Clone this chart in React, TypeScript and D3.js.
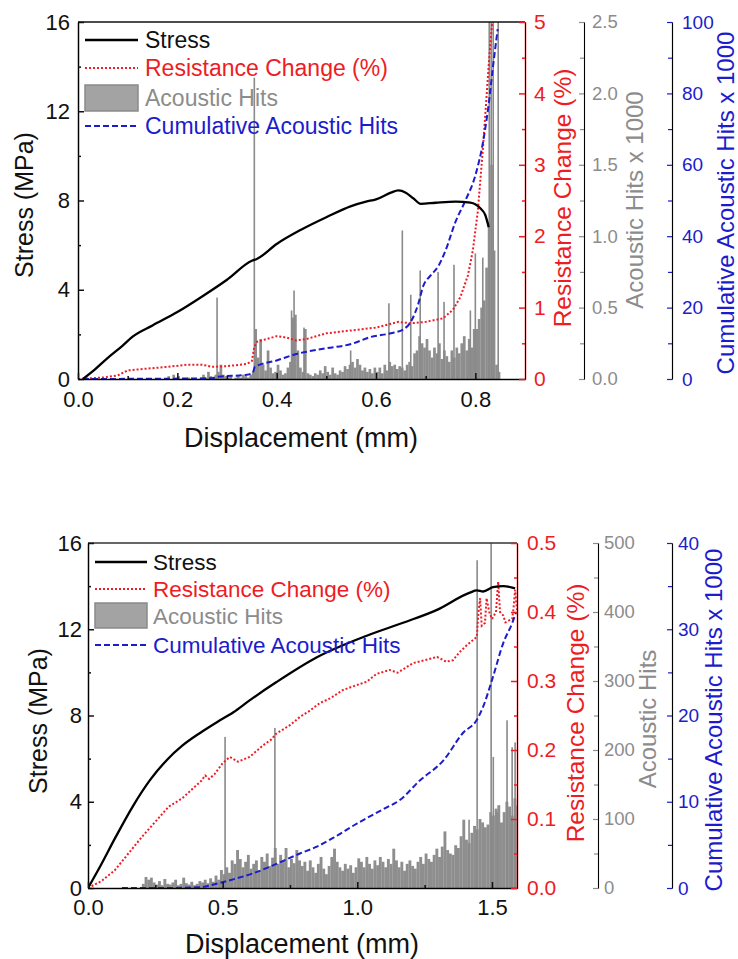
import React, { useEffect, useRef } from 'react'
import * as d3 from 'd3'

const FONT = "'Liberation Sans', Arial, Helvetica, sans-serif"
const RED = '#ee1c24'
const BLUE = '#1c1ccc'
const GRAY_TXT = '#8c8c8c'
const BAR = '#8e8e8e'

// ---------- top panel data (displacement mm) ----------
const topStress = [
  [0.01, 0], [0.03, 0.35], [0.06, 0.95], [0.09, 1.5], [0.11, 1.9], [0.15, 2.4], [0.2, 3.0],
  [0.25, 3.7], [0.3, 4.45], [0.35, 5.3], [0.36, 5.38], [0.4, 6.05], [0.45, 6.7], [0.5, 7.25],
  [0.55, 7.75], [0.58, 7.95], [0.6, 8.05], [0.63, 8.35], [0.645, 8.45], [0.66, 8.35],
  [0.675, 8.1], [0.69, 7.85], [0.72, 7.9], [0.76, 7.95], [0.79, 7.9], [0.81, 7.65],
  [0.82, 7.35], [0.827, 6.8],
]
const topResistance = [
  [0, 0], [0.05, 0.02], [0.08, 0.05], [0.1, 0.12], [0.13, 0.14], [0.18, 0.17], [0.22, 0.2],
  [0.25, 0.2], [0.27, 0.17], [0.3, 0.18], [0.34, 0.21], [0.35, 0.25], [0.355, 0.45],
  [0.36, 0.52], [0.4, 0.6], [0.42, 0.58], [0.44, 0.54], [0.46, 0.56], [0.5, 0.64],
  [0.55, 0.68], [0.6, 0.72], [0.645, 0.8], [0.67, 0.78], [0.7, 0.8], [0.735, 0.85],
  [0.755, 0.97], [0.77, 1.15], [0.785, 1.45], [0.795, 1.8], [0.805, 2.35], [0.815, 3.2],
  [0.822, 3.9], [0.828, 4.5], [0.834, 5.0],
]
const topCumulative = [
  [0.01, 0], [0.27, 0.2], [0.28, 0.6], [0.34, 1.2], [0.352, 1.8], [0.356, 3.4], [0.4, 5.2],
  [0.44, 7.0], [0.5, 8.6], [0.55, 9.8], [0.59, 11.8], [0.63, 12.8], [0.655, 13.9],
  [0.67, 16], [0.685, 21], [0.695, 26], [0.71, 29], [0.725, 31.5], [0.74, 36], [0.76, 44],
  [0.78, 50], [0.8, 57], [0.815, 66], [0.826, 76], [0.836, 88], [0.845, 98],
]
// acoustic hits (x 1000), bins of 0.005 mm starting at 0
const topHitsStep = 0.005
const topHits = [
  0, 0, 0, 0, 0, 0, 0, 0, 0, 0, 0, 0, 0, 0, 0, 0, 0, 0, 0, 0,
  0, 0, 0, 0, 0, 0, 0, 0, 0, 0, 0, 0, 0, 0, 0, 0,
  0.02, 0, 0.03, 0, 0.02,
  0, 0, 0, 0.01, 0, 0, 0, 0, 0.01,
  0.03, 0.01, 0.05, 0.02, 0.01, 0.03,
  0.05, 0.1, 0.03, 0.02,
  0.01, 0.02, 0, 0.01, 0.02, 0.01, 0.03, 0.02, 0.01, 0.03,
  0.05, 0.35, 0.15, 0.28, 0.1, 0.06, 0.2, 0.08, 0.04, 0.05,
  0.1, 0.06, 0.03, 0.04, 0.08, 0.12, 0.43, 0.45, 0.2, 0.08,
  0.05, 0.35, 0.04, 0.03, 0.02, 0.04, 0.03, 0.06, 0.04, 0.09,
  0.05, 0.03, 0.08, 0.04, 0.03, 0.06, 0.05, 0.09, 0.07, 0.1,
  0.12, 0.08, 0.14, 0.1, 0.06, 0.08, 0.05, 0.07, 0.04, 0.08,
  0.05, 0.08, 0.04, 0.1, 0.06, 0.12, 0.09, 0.1, 0.07, 0.09,
  0.08, 0.06, 0.1, 0.12, 0.09, 0.18, 0.2, 0.3, 0.25, 0.22,
  0.28, 0.2, 0.15, 0.22, 0.18, 0.25, 0.14, 0.2, 0.16, 0.12,
  0.2, 0.15, 0.22, 0.18, 0.25, 0.3, 0.2, 0.28, 0.22, 0.35,
  0.35, 0.42, 0.5, 0.55, 0.78, 1.1, 1.5, 0.9, 0.1, 0.05,
]
const topSpikes = [
  [0.28, 0.57], [0.355, 2.11], [0.43, 0.48], [0.435, 0.62], [0.455, 0.36], [0.549, 0.2],
  [0.626, 0.53], [0.653, 1.04], [0.67, 0.59], [0.689, 0.76], [0.725, 0.75], [0.737, 0.54],
  [0.757, 0.8], [0.79, 0.48], [0.8, 0.88], [0.815, 0.85], [0.828, 3], [0.832, 3],
  [0.836, 3], [0.846, 3],
]

// ---------- bottom panel data ----------
const botStress = [
  [0, 0], [0.045, 1.0], [0.1, 2.3], [0.167, 3.8], [0.23, 5.0], [0.293, 5.94], [0.35, 6.6],
  [0.416, 7.19], [0.48, 7.7], [0.54, 8.15], [0.6, 8.7], [0.7, 9.55], [0.85, 10.7],
  [1.035, 11.7], [1.17, 12.3], [1.296, 12.9], [1.418, 13.7], [1.444, 13.8], [1.467, 13.75],
  [1.504, 13.95], [1.542, 14.0], [1.586, 13.9],
]
const botResistance = [
  [0, 0], [0.05, 0.01], [0.1, 0.026], [0.15, 0.05], [0.2, 0.074], [0.25, 0.096], [0.3, 0.118],
  [0.35, 0.13], [0.4, 0.148], [0.42, 0.155], [0.435, 0.163], [0.45, 0.158], [0.47, 0.165],
  [0.5, 0.181], [0.527, 0.19], [0.557, 0.183], [0.6, 0.19], [0.651, 0.207], [0.68, 0.215],
  [0.7, 0.224], [0.75, 0.236], [0.787, 0.248], [0.82, 0.256], [0.861, 0.268], [0.9, 0.275],
  [0.947, 0.287], [0.99, 0.293], [1.035, 0.299], [1.07, 0.31], [1.12, 0.316], [1.15, 0.312],
  [1.207, 0.326], [1.25, 0.33], [1.296, 0.335], [1.33, 0.328], [1.355, 0.33], [1.38, 0.342],
  [1.407, 0.352], [1.444, 0.364], [1.45, 0.4], [1.456, 0.42], [1.462, 0.38], [1.474, 0.384],
  [1.48, 0.42], [1.49, 0.4], [1.5, 0.39], [1.515, 0.4], [1.523, 0.444], [1.53, 0.4],
  [1.542, 0.395], [1.55, 0.385], [1.575, 0.39], [1.58, 0.405], [1.586, 0.432], [1.593, 0.403],
]
const botCumulative = [
  [0.126, 0], [0.3, 0], [0.416, 0.1], [0.49, 0.6], [0.55, 1.1], [0.613, 1.7], [0.7, 2.8],
  [0.787, 4.0], [0.85, 4.8], [0.91, 5.8], [1.0, 7.5], [1.035, 8.1], [1.1, 9.2], [1.158, 10.2],
  [1.23, 12.4], [1.32, 14.8], [1.393, 18], [1.444, 19.5], [1.467, 21], [1.504, 24.5],
  [1.542, 28.4], [1.575, 30.7], [1.59, 32],
]
// acoustic hits, bins of 0.01 mm starting at 0
const botHitsStep = 0.01
const botHits = [
  0, 0, 0, 0, 0, 0, 0, 0, 0, 0, 0, 0, 0, 0, 0, 0, 0, 0, 0, 0,
  6, 16, 12, 15, 8, 5, 10, 4, 13, 6,
  5, 8, 12, 4, 6, 15, 7, 5, 9, 4,
  6, 10, 8, 12, 7, 14, 9, 18, 12, 26,
  20, 30, 22, 40, 35, 55, 42, 30, 38, 48,
  28, 35, 40, 25, 45, 38, 50, 32, 44, 58,
  35, 48, 40, 58, 30, 42, 36, 55, 40, 32,
  38, 25, 40, 30, 22, 35, 45, 28, 20, 32,
  45, 57, 38, 30, 25, 35, 28, 33, 22, 30,
  43, 38, 30, 45, 35, 28, 40, 33, 45, 38,
  30, 42, 35, 57, 40, 30, 38, 25, 35, 40,
  32, 28, 38, 45, 35, 50, 42, 38, 48, 57,
  45, 60, 82, 55, 50, 48, 62, 58, 75, 99,
  70, 65, 80, 90, 85, 100, 95, 88, 92, 110,
  105, 115, 120, 95, 110, 125, 118, 105, 130, 120,
]
const botSpikes = [
  [0.509, 219], [0.694, 232], [1.415, 99], [1.445, 475], [1.497, 520], [1.505, 190],
  [1.52, 110], [1.556, 243], [1.575, 204], [1.586, 211],
]

// ---------- tick values ----------
const stressTicks = [0, 4, 8, 12, 16]
const stressMinor = [2, 6, 10, 14]
const topXTicks = [0, 0.2, 0.4, 0.6, 0.8]
const topXMinor = [0.1, 0.3, 0.5, 0.7]
const topRedTicks = [0, 1, 2, 3, 4, 5]
const topRedMinor = [0.5, 1.5, 2.5, 3.5, 4.5]
const topGrayTicks = [0, 0.5, 1, 1.5, 2, 2.5]
const topGrayMinor = [0.25, 0.75, 1.25, 1.75, 2.25]
const topBlueTicks = [0, 20, 40, 60, 80, 100]
const topBlueMinor = [10, 30, 50, 70, 90]
const botXTicks = [0, 0.5, 1, 1.5]
const botXMinor = [0.25, 0.75, 1.25]
const botRedTicks = [0, 0.1, 0.2, 0.3, 0.4, 0.5]
const botRedMinor = [0.05, 0.15, 0.25, 0.35, 0.45]
const botGrayTicks = [0, 100, 200, 300, 400, 500]
const botGrayMinor = [50, 150, 250, 350, 450]
const botBlueTicks = [0, 10, 20, 30, 40]
const botBlueMinor = [5, 15, 25, 35]

const legendLabels = ['Stress', 'Resistance Change (%)', 'Acoustic Hits', 'Cumulative Acoustic Hits']

const panels = [
  {
    id: 'top', left: 78, right: 525, top: 22, bottom: 379,
    xDomain: [0, 0.9], xTicks: topXTicks, xMinor: topXMinor, xFmt: '.1f', xPad: 12, yPad: 8,
    red: { domain: [0, 5], ticks: topRedTicks, minor: topRedMinor, fmt: 'd', pad: 9 },
    gray: { x: 584, domain: [0, 2.5], ticks: topGrayTicks, minor: topGrayMinor, fmt: '.1f', pad: 8 },
    blue: { x: 672, domain: [0, 100], ticks: topBlueTicks, minor: topBlueMinor, fmt: 'd', pad: 10 },
    stress: topStress, resistance: topResistance, cumulative: topCumulative,
    hits: topHits, hitsStep: topHitsStep, spikes: topSpikes,
    titles: {
      x: [301, 447], stress: [24, 205], red: [562, 198], gray: [635, 200], blue: [726, 203],
      grayText: 'Acoustic Hits x 1000',
    },
    legend: { x0: 85, x1: 138, tx: 145, rows: [40, 68, 98, 126], size: 23, rect: [85, 111] },
    frame: '#111',
  },
  {
    id: 'bot', left: 88, right: 517, top: 543, bottom: 888,
    xDomain: [0, 1.593], xTicks: botXTicks, xMinor: botXMinor, xFmt: '.1f', xPad: 11, yPad: 6,
    red: { domain: [0, 0.5], ticks: botRedTicks, minor: botRedMinor, fmt: '.1f', pad: 10 },
    gray: { x: 598, domain: [0, 500], ticks: botGrayTicks, minor: botGrayMinor, fmt: 'd', pad: 6 },
    blue: { x: 672, domain: [0, 40], ticks: botBlueTicks, minor: botBlueMinor, fmt: 'd', pad: 6 },
    stress: botStress, resistance: botResistance, cumulative: botCumulative,
    hits: botHits, hitsStep: botHitsStep, spikes: botSpikes,
    titles: {
      x: [302, 953], stress: [38, 721], red: [575, 713], gray: [648, 719], blue: [714, 720],
      grayText: 'Acoustic Hits',
    },
    legend: { x0: 95, x1: 147, tx: 153, rows: [562, 589, 616, 645], size: 22.5, rect: [603, 628] },
    frame: '#333',
  },
]

function styleAxis(sel, color, size, width = 1.5) {
  sel.select('.domain').attr('stroke', color).attr('stroke-width', width)
  sel.selectAll('.tick line').attr('stroke', color).attr('stroke-width', width)
  sel.selectAll('text').attr('fill', color).attr('font-size', size).attr('font-family', FONT)
}

function vTitle(g, pos, text, color, size) {
  g.append('text')
    .attr('transform', `translate(${pos[0]},${pos[1]}) rotate(-90)`)
    .attr('text-anchor', 'middle').attr('dy', '0.35em')
    .attr('font-family', FONT).attr('font-size', size).attr('fill', color)
    .text(text)
}

function drawPanel(root, p) {
  const g = root.append('g')
  const x = d3.scaleLinear().domain(p.xDomain).range([p.left, p.right])
  const y = d3.scaleLinear().domain([0, 16]).range([p.bottom, p.top])
  const yR = d3.scaleLinear().domain(p.red.domain).range([p.bottom, p.top])
  const yG = d3.scaleLinear().domain(p.gray.domain).range([p.bottom, p.top])
  const yB = d3.scaleLinear().domain(p.blue.domain).range([p.bottom, p.top])

  const clipId = 'clip-' + p.id
  root.append('defs').append('clipPath').attr('id', clipId)
    .append('rect').attr('x', p.left).attr('y', p.top)
    .attr('width', p.right - p.left).attr('height', p.bottom - p.top)

  const plot = g.append('g').attr('clip-path', `url(#${clipId})`)
  const bw = x(p.hitsStep) - x(0)
  plot.append('g').selectAll('rect').data(p.hits).join('rect')
    .attr('x', (d, i) => x(i * p.hitsStep))
    .attr('y', d => yG(d))
    .attr('width', bw + 0.2)
    .attr('height', d => p.bottom - yG(d))
    .attr('fill', BAR)
  plot.append('g').selectAll('rect').data(p.spikes).join('rect')
    .attr('x', d => x(d[0]) - 0.8)
    .attr('y', d => yG(d[1]))
    .attr('width', 1.6)
    .attr('height', d => p.bottom - yG(d[1]))
    .attr('fill', '#8a8a8a')

  const line = (ys, curve) => d3.line().curve(curve).x(d => x(d[0])).y(d => ys(d[1]))
  plot.append('path').datum(p.resistance).attr('d', line(yR, d3.curveLinear))
    .attr('fill', 'none').attr('stroke', RED).attr('stroke-width', 2).attr('stroke-dasharray', '2,2')
  plot.append('path').datum(p.cumulative).attr('d', line(yB, d3.curveMonotoneX))
    .attr('fill', 'none').attr('stroke', BLUE).attr('stroke-width', 2).attr('stroke-dasharray', '6,3')
  plot.append('path').datum(p.stress).attr('d', line(y, d3.curveMonotoneX))
    .attr('fill', 'none').attr('stroke', '#000').attr('stroke-width', 2.3)

  // frame top
  g.append('line').attr('x1', p.left).attr('x2', p.right).attr('y1', p.top).attr('y2', p.top)
    .attr('stroke', p.frame).attr('stroke-width', 1.5)

  // left axis
  const aL = g.append('g').attr('transform', `translate(${p.left},0)`)
  aL.call(d3.axisLeft(y).tickValues(stressTicks).tickSize(-6).tickSizeOuter(0)
    .tickPadding(p.yPad).tickFormat(d3.format('d')))
  aL.append('g').call(d3.axisLeft(y).tickValues(stressMinor).tickSize(-3).tickSizeOuter(0).tickFormat(() => ''))
  styleAxis(aL, '#111', 22)

  // bottom axis
  const aB = g.append('g').attr('transform', `translate(0,${p.bottom})`)
  aB.call(d3.axisBottom(x).tickValues(p.xTicks).tickSize(-6).tickSizeOuter(0)
    .tickPadding(p.xPad).tickFormat(d3.format(p.xFmt)))
  aB.append('g').call(d3.axisBottom(x).tickValues(p.xMinor).tickSize(-3).tickSizeOuter(0).tickFormat(() => ''))
  styleAxis(aB, '#111', 22)

  // red right axis
  const aR = g.append('g').attr('transform', `translate(${p.right},0)`)
  aR.call(d3.axisRight(yR).tickValues(p.red.ticks).tickSize(-6).tickSizeOuter(0)
    .tickPadding(p.red.pad).tickFormat(d3.format(p.red.fmt)))
  aR.append('g').call(d3.axisRight(yR).tickValues(p.red.minor).tickSize(-3).tickSizeOuter(0).tickFormat(() => ''))
  styleAxis(aR, RED, 21)

  // gray offset axis
  const aG = g.append('g').attr('transform', `translate(${p.gray.x},0)`)
  aG.call(d3.axisRight(yG).tickValues(p.gray.ticks).tickSize(-5).tickSizeOuter(0)
    .tickPadding(p.gray.pad).tickFormat(d3.format(p.gray.fmt)))
  aG.append('g').call(d3.axisRight(yG).tickValues(p.gray.minor).tickSize(-4).tickSizeOuter(0).tickFormat(() => ''))
  styleAxis(aG, GRAY_TXT, 18.5, 1.2)

  // blue offset axis
  const aBl = g.append('g').attr('transform', `translate(${p.blue.x},0)`)
  aBl.call(d3.axisRight(yB).tickValues(p.blue.ticks).tickSize(-5).tickSizeOuter(0)
    .tickPadding(p.blue.pad).tickFormat(d3.format(p.blue.fmt)))
  aBl.append('g').call(d3.axisRight(yB).tickValues(p.blue.minor).tickSize(-4).tickSizeOuter(0).tickFormat(() => ''))
  styleAxis(aBl, BLUE, 19, 1.2)

  // titles
  const t = p.titles
  g.append('text').attr('x', t.x[0]).attr('y', t.x[1]).attr('text-anchor', 'middle')
    .attr('font-family', FONT).attr('font-size', 27).attr('fill', '#111').text('Displacement (mm)')
  vTitle(g, t.stress, 'Stress (MPa)', '#111', 25)
  vTitle(g, t.red, 'Resistance Change (%)', RED, 24.5)
  vTitle(g, t.gray, t.grayText, GRAY_TXT, 24)
  vTitle(g, t.blue, 'Cumulative Acoustic Hits x 1000', BLUE, 24)

  // legend
  const L = p.legend
  const lg = g.append('g')
  const sample = (row, stroke, dash, w) => lg.append('line')
    .attr('x1', L.x0).attr('x2', L.x1).attr('y1', L.rows[row]).attr('y2', L.rows[row])
    .attr('stroke', stroke).attr('stroke-width', w).attr('stroke-dasharray', dash)
  sample(0, '#000', null, 2.5)
  sample(1, RED, '2,2', 2)
  lg.append('rect').attr('x', L.x0).attr('y', L.rect[0]).attr('width', L.x1 - L.x0)
    .attr('height', L.rect[1] - L.rect[0]).attr('fill', '#a3a3a3').attr('stroke', '#8a8a8a').attr('stroke-width', 1.5)
  sample(3, BLUE, '6,3', 2)
  const colors = ['#111', RED, GRAY_TXT, BLUE]
  lg.selectAll('text.leg').data(legendLabels).join('text')
    .attr('class', 'leg')
    .attr('x', L.tx).attr('y', (d, i) => L.rows[i]).attr('dy', '0.35em')
    .attr('font-family', FONT).attr('font-size', L.size)
    .attr('fill', (d, i) => colors[i])
    .text(d => d)
}

export default function App() {
  const ref = useRef(null)
  useEffect(() => {
    const svg = d3.select(ref.current)
    svg.selectAll('*').remove()
    panels.forEach(p => drawPanel(svg, p))
  }, [])
  return (
    <svg ref={ref} width={738} height={959}
      style={{ position: 'absolute', left: 0, top: 0, background: '#fff' }} />
  )
}
